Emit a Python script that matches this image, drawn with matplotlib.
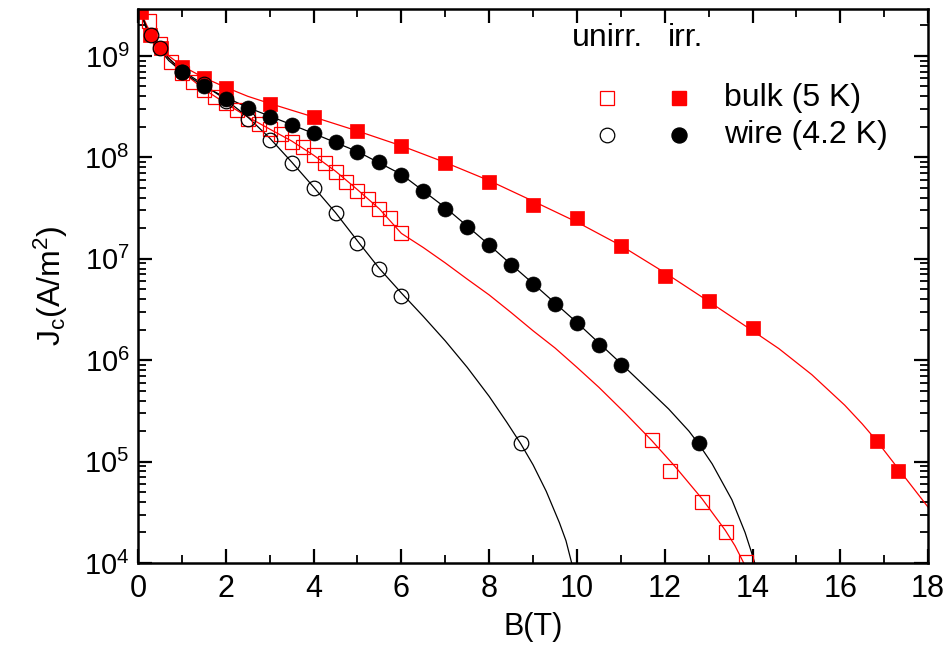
import matplotlib
matplotlib.use("Agg")
import matplotlib.pyplot as plt
from matplotlib.ticker import FixedLocator, LogLocator, NullFormatter, MultipleLocator

plt.rcParams['font.family'] = ['Liberation Sans', 'DejaVu Sans']
plt.rcParams['mathtext.fontset'] = 'custom'
plt.rcParams['mathtext.rm'] = 'Liberation Sans'
plt.rcParams['mathtext.it'] = 'Liberation Sans'

# bulk, unirradiated (open squares)
B_bulk_un = [0.25, 0.5, 0.75, 1.0, 1.25, 1.5, 1.75, 2.0, 2.25, 2.5, 2.75, 3.0, 3.25, 3.5,
             3.75, 4.0, 4.25, 4.5, 4.75, 5.0, 5.25, 5.5, 5.75, 6.0,
             11.7, 12.13, 12.85, 13.4, 13.85]
J_bulk_un = [2.2e9, 1.3e9, 8.8e8, 6.8e8, 5.5e8, 4.6e8, 3.9e8, 3.4e8, 2.9e8, 2.4e8, 2.15e8,
             1.92e8, 1.71e8, 1.42e8, 1.26e8, 1.05e8, 8.7e7, 7.2e7, 5.7e7, 4.7e7, 3.9e7,
             3.1e7, 2.5e7, 1.8e7,
             1.63e5, 8.1e4, 4.0e4, 2.0e4, 1.03e4]

# bulk, irradiated (filled squares)
B_bulk_irr = [0.08, 0.27, 0.52, 1.0, 1.5, 2.0, 3.0, 4.0, 5.0, 6.0, 7.0, 8.0, 9.0, 10.0,
              11.0, 12.0, 13.0, 14.0, 16.83, 17.32]
J_bulk_irr = [2.7e9, 1.6e9, 1.2e9, 7.7e8, 6.1e8, 4.8e8, 3.35e8, 2.5e8, 1.8e8, 1.28e8,
              8.8e7, 5.7e7, 3.4e7, 2.5e7, 1.33e7, 6.7e6, 3.8e6, 2.1e6, 1.6e5, 8.0e4]

# wire, unirradiated (open circles)
B_wire_un = [0.3, 0.5, 1.0, 1.5, 2.0, 2.5, 3.0, 3.5, 4.0, 4.5, 5.0, 5.5, 6.0, 8.72]
J_wire_un = [1.6e9, 1.2e9, 7.0e8, 5.3e8, 3.6e8, 2.4e8, 1.47e8, 8.8e7, 5.0e7, 2.8e7,
             1.43e7, 8.0e6, 4.3e6, 1.51e5]

# wire, irradiated (filled circles)
B_wire_irr = [1.0, 1.5, 2.0, 2.5, 3.0, 3.5, 4.0, 4.5, 5.0, 5.5, 6.0, 6.5, 7.0, 7.5, 8.0,
              8.5, 9.0, 9.5, 10.0, 10.5, 11.0, 12.77]
J_wire_irr = [6.9e8, 5.0e8, 3.8e8, 3.06e8, 2.5e8, 2.1e8, 1.73e8, 1.42e8, 1.13e8, 9.0e7,
              6.7e7, 4.7e7, 3.1e7, 2.06e7, 1.36e7, 8.6e6, 5.7e6, 3.6e6, 2.3e6, 1.41e6,
              9.0e5, 1.53e5]

# fit curves
fB_bulk_irr = [0.02, 0.2, 0.4, 0.7, 1.0, 1.5, 2.0, 2.5, 3.0, 4.0, 5.0, 6.0, 7.0, 8.0, 9.0,
               10.0, 11.0, 12.0, 13.0, 14.0, 14.6, 15.35, 16.1, 16.5, 16.83, 17.32, 18.0]
fJ_bulk_irr = [3.0e9, 1.9e9, 1.35e9, 1.0e9, 8.0e8, 6.1e8, 4.9e8, 4.0e8, 3.4e8, 2.5e8,
               1.82e8, 1.3e8, 8.9e7, 5.9e7, 3.7e7, 2.3e7, 1.35e7, 7.3e6, 3.8e6, 1.95e6,
               1.3e6, 7.2e5, 3.6e5, 2.35e5, 1.6e5, 8.5e4, 3.55e4]

fB_wire_irr = [0.02, 0.2, 0.4, 0.7, 1.0, 1.5, 2.0, 2.5, 3.0, 3.5, 4.0, 5.0, 6.0, 7.0, 7.5,
               8.0, 8.5, 9.0, 10.0, 11.0, 11.48, 12.09, 12.55, 12.77, 13.08, 13.53, 13.83,
               13.98, 14.05]
fJ_wire_irr = [3.0e9, 1.8e9, 1.3e9, 9.0e8, 7.0e8, 5.0e8, 3.9e8, 3.1e8, 2.55e8, 2.1e8,
               1.72e8, 1.14e8, 6.8e7, 3.2e7, 2.1e7, 1.37e7, 8.8e6, 5.7e6, 2.35e6, 9.3e5,
               5.9e5, 3.3e5, 2.0e5, 1.5e5, 9.5e4, 4.2e4, 2.0e4, 1.26e4, 1.0e4]

fB_bulk_un = [0.02, 0.2, 0.4, 0.7, 1.0, 1.5, 2.0, 2.5, 3.0, 3.5, 4.0, 4.5, 5.0, 5.5, 6.0,
              6.5, 7.0, 7.5, 8.0, 8.5, 9.0, 9.5, 10.0, 10.5, 11.1, 11.7, 12.24, 12.85,
              13.38, 13.6, 13.8]
fJ_bulk_un = [3.0e9, 2.0e9, 1.4e9, 9.5e8, 7.0e8, 4.7e8, 3.4e8, 2.5e8, 1.9e8, 1.45e8,
              1.05e8, 7.3e7, 4.8e7, 3.1e7, 1.78e7, 1.29e7, 9.1e6, 6.3e6, 4.4e6, 2.95e6,
              1.95e6, 1.32e6, 8.5e5, 5.4e5, 3.0e5, 1.62e5, 8.9e4, 4.3e4, 2.1e4, 1.48e4,
              1.0e4]

fB_wire_un = [0.02, 0.2, 0.4, 0.7, 1.0, 1.5, 2.0, 2.5, 3.0, 3.5, 4.0, 4.5, 5.0, 5.5, 6.0,
              6.5, 7.0, 7.5, 8.0, 8.4, 8.72, 9.0, 9.3, 9.6, 9.75, 9.88]
fJ_wire_un = [3.0e9, 1.9e9, 1.35e9, 9.5e8, 7.2e8, 5.2e8, 3.7e8, 2.5e8, 1.55e8, 9.0e7,
              5.1e7, 2.85e7, 1.5e7, 8.0e6, 4.6e6, 2.7e6, 1.55e6, 8.5e5, 4.4e5, 2.45e5,
              1.5e5, 9.3e4, 5.1e4, 2.5e4, 1.66e4, 1.0e4]

RED = '#ff0000'

fig = plt.figure(figsize=(9.49, 6.45), dpi=100)
ax = fig.add_axes([0.1454, 0.1271, 0.8326, 0.8589])

ax.plot(fB_bulk_irr, fJ_bulk_irr, color=RED, lw=0.9)
ax.plot(fB_bulk_un, fJ_bulk_un, color=RED, lw=0.9)
ax.plot(fB_wire_irr, fJ_wire_irr, color='black', lw=0.9)
ax.plot(fB_wire_un, fJ_wire_un, color='black', lw=0.9)

ax.plot(B_bulk_un, J_bulk_un, 's', ls='none', ms=9.5, mfc='none', mec=RED, mew=0.9)
ax.plot(B_bulk_irr, J_bulk_irr, 's', ls='none', ms=10, mfc=RED, mec=RED, mew=0.5)
ax.plot(B_wire_un, J_wire_un, 'o', ls='none', ms=10.5, mfc='none', mec='black', mew=0.9)
ax.plot(B_wire_irr, J_wire_irr, 'o', ls='none', ms=10.8, mfc='black', mec='black', mew=0.5)

ax.set_yscale('log')
ax.set_xlim(0, 18)
ax.set_ylim(1e4, 2.9e9)

ax.xaxis.set_major_locator(MultipleLocator(2))
ax.xaxis.set_minor_locator(MultipleLocator(1))
ax.yaxis.set_major_locator(FixedLocator([1e4, 1e5, 1e6, 1e7, 1e8, 1e9]))
ax.yaxis.set_minor_locator(LogLocator(base=10, subs=range(2, 10)))
ax.yaxis.set_minor_formatter(NullFormatter())

ax.tick_params(which='both', direction='in', top=True, right=True)
ax.tick_params(which='major', length=10, width=1.6)
ax.tick_params(which='minor', length=6, width=1.3)
ax.tick_params(axis='x', pad=8, labelsize=22)
ax.tick_params(axis='y', pad=6, labelsize=21)
for sp in ax.spines.values():
    sp.set_linewidth(1.8)

ax.set_xlabel('B(T)', fontsize=22, labelpad=6)
ax.set_ylabel('J$_c$(A/m$^2$)', fontsize=23, labelpad=10)

# legend block
tr = ax.transAxes
ax.text(0.549, 0.948, 'unirr.', transform=tr, fontsize=23, va='center')
ax.text(0.670, 0.948, 'irr.', transform=tr, fontsize=23, va='center')
ax.plot([0.594], [0.839], 's', transform=tr, ms=9.5, mfc='none', mec=RED, mew=0.9)
ax.plot([0.685], [0.839], 's', transform=tr, ms=10, mfc=RED, mec=RED)
ax.plot([0.594], [0.773], 'o', transform=tr, ms=10.5, mfc='none', mec='black', mew=0.9)
ax.plot([0.685], [0.773], 'o', transform=tr, ms=10.8, mfc='black', mec='black')
ax.text(0.742, 0.839, 'bulk (5 K)', transform=tr, fontsize=23, va='center')
ax.text(0.742, 0.773, 'wire (4.2 K)', transform=tr, fontsize=23, va='center')

fig.savefig('out.png', dpi=100)
